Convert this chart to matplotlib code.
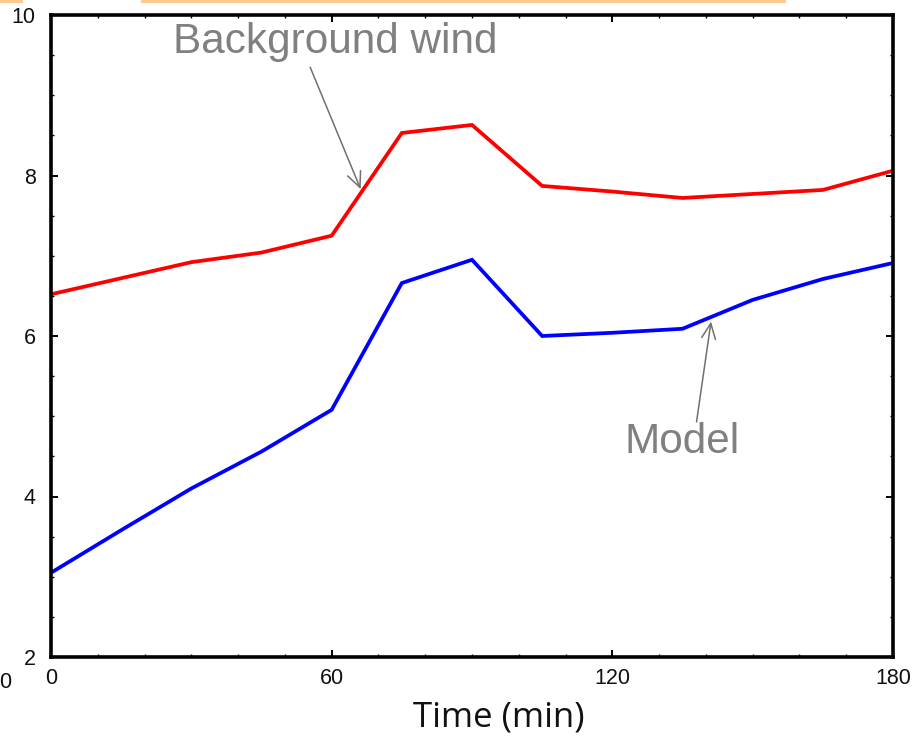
import matplotlib.pyplot as plt
from matplotlib.patches import Rectangle
from matplotlib.ticker import MultipleLocator

# time axis in minutes, one sample every 15 min
time_min = [0, 15, 30, 45, 60, 75, 90, 105, 120, 135, 150, 165, 180]
background_wind = [6.52, 6.72, 6.92, 7.04, 7.25, 8.53, 8.63, 7.87, 7.80, 7.72, 7.77, 7.82, 8.06]
model = [3.05, 3.58, 4.10, 4.56, 5.08, 6.66, 6.95, 6.00, 6.04, 6.09, 6.45, 6.71, 6.91]

x_ticks = [0, 60, 120, 180]
y_ticks = [2, 4, 6, 8, 10]

W, H = 919, 736
fig = plt.figure(figsize=(W / 100, H / 100), dpi=100)
ax = fig.add_axes([51 / W, 1 - 657 / H, (893 - 51) / W, (657 - 15) / H])

ax.plot(time_min, background_wind, color='#ff0000', lw=2.7, solid_joinstyle='miter')
ax.plot(time_min, model, color='#0000ff', lw=2.7, solid_joinstyle='miter')

ax.set_xlim(0, 180)
ax.set_ylim(2, 10)
ax.set_xticks(x_ticks)
ax.set_yticks(y_ticks)
ax.xaxis.set_minor_locator(MultipleLocator(10))
ax.yaxis.set_minor_locator(MultipleLocator(0.5))

for s in ax.spines.values():
    s.set_linewidth(2.6)
ax.tick_params(which='both', direction='in', top=True, right=True, colors='black')
ax.tick_params(which='major', length=5, width=1.4)
ax.tick_params(which='minor', length=2.5, width=1.0)
ax.tick_params(axis='x', which='major', pad=8)
ax.tick_params(axis='y', which='major', pad=11)
for lab in ax.get_xticklabels() + ax.get_yticklabels():
    lab.set_fontfamily('Liberation Sans')
    lab.set_fontsize(15.5)
    lab.set_color('#111111')

# annotations with open arrowheads
grey = '#808080'
arrow = dict(arrowstyle='->,head_length=0.55,head_width=0.25', color='#707070',
             lw=1.1, shrinkA=0, shrinkB=0, mutation_scale=20)
ax.text(26.0, 9.53, 'Background wind', fontsize=30.4, color=grey,
        family='Liberation Sans', ha='left', va='baseline')
ax.annotate('', xy=(66.2, 7.83), xytext=(55.4, 9.35), arrowprops=arrow)
ax.text(122.7, 4.546, 'Model', fontsize=30.4, color=grey,
        family='Liberation Sans', ha='left', va='baseline')
ax.annotate('', xy=(141.1, 6.18), xytext=(138.0, 4.93), arrowprops=arrow)

fig.text(413 / W, 1 - 727 / H, 'Time (min)', fontsize=25, family='Open Sans',
         color='#111111', ha='left', va='baseline')

# stray label at the left edge
fig.text(5 / W, 1 - 683 / H, '0', fontsize=15.5, family='Liberation Sans',
         color='#111111', ha='center', va='center')

# orange header strip along the top edge
orange = '#ffc98f'
for x0, x1 in [(0, 23), (141, 786)]:
    fig.patches.append(Rectangle((x0 / W, 1 - 3 / H), (x1 - x0) / W, 3 / H,
                                 transform=fig.transFigure, color=orange, lw=0))

fig.savefig('out.png', dpi=100)
